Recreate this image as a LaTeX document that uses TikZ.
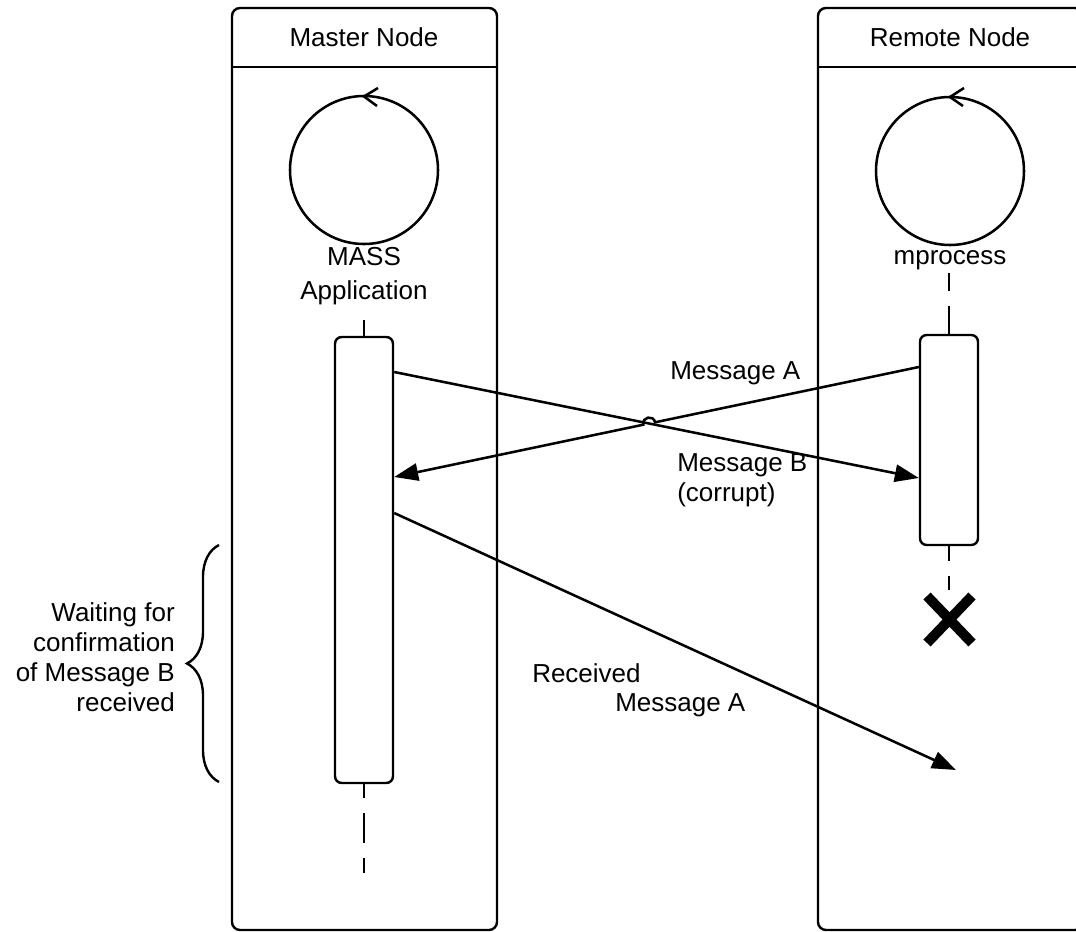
\documentclass[tikz,border=0pt]{standalone}
\usepackage{fontspec}
\setmainfont{Liberation Sans}
\usetikzlibrary{arrows.meta,decorations.pathreplacing,calc}
\begin{document}
\begin{tikzpicture}[x=0.75pt,y=-0.75pt,
  lane/.style={draw,line width=1.8pt,rounded corners=6pt},
  act/.style={draw,line width=1.8pt,rounded corners=5pt,fill=white,inner sep=0pt},
  msg/.style={line width=1.9pt,-{Triangle[length=18pt,width=13pt]}},
  lbl/.style={font=\fontsize{19.5}{22.5}\selectfont,inner sep=0pt},
  life/.style={line width=1.8pt,dash pattern=on 22.5pt off 11.25pt},
  proc/.style={draw,circle,line width=1.9pt,minimum size=111pt,inner sep=0pt},
  chev/.style={line width=1.9pt},
]
\useasboundingbox (0,0) rectangle (1076,932);
\clip (0,0) rectangle (1076,932);

% lanes
\draw[lane] (232,8) rectangle (497,930);
\draw[line width=1.8pt] (232,67) -- (497,67);
\draw[lane] (818,8) rectangle (1083,930);
\draw[line width=1.8pt] (818,67) -- (1083,67);
\node[lbl] (mtitle) at (364,37) {Master Node};
\node[lbl] (rtitle) at (950,37) {Remote Node};

% processes
\node[proc] (mproc) at (364,170) {};
\draw[chev] (378,88) -- (364,96.5) -- (377,106);
\node[proc] (rproc) at (950,171) {};
\draw[chev] (964,88) -- (950,97) -- (963,106);
\node[lbl,align=center,font=\fontsize{19.5}{26}\selectfont] (mname) at (364,276) {MASS\\Application};
\node[lbl] (rname) at (950,260) {mprocess};

% activations
\node[act,minimum width=43.5pt,minimum height=334.5pt] (mact) at (364,560) {};
\node[act,minimum width=43.5pt,minimum height=157.5pt] (ract) at (949,440) {};

% lifelines
\coordinate (mtop) at (364,320);
\draw[line width=1.8pt] (mtop) -- (mact.north);
\coordinate (mend) at (364,873);
\draw[life,dash phase=12pt] (mact.south) -- (mend);
\coordinate (rtop) at (949,273);
\draw[life,dash phase=9pt] (rtop) -- (ract.north);
\coordinate (rend) at (949,590);
\draw[life,dash phase=11.25pt] (ract.south) -- (rend);

% destruction
\draw[line width=7.5pt] (927,596) -- (972,643) (972,596) -- (927,643);

% messages
\coordinate (bs) at (mact.east |- 0,372);
\coordinate (be) at (ract.west |- 0,478);
\draw[msg] (bs) -- (be);
\coordinate (as) at (ract.west |- 0,367);
\coordinate (ae) at (mact.east |- 0,477);
\draw[msg] (as) -- (655.1,422.3) .. controls (653.5,414.5) and (641.7,416.9) .. (643.3,424.7) -- (ae);
\coordinate (cs) at (mact.east |- 0,513);
\coordinate (ce) at (956,770);
\draw[msg] (cs) -- (ce);

\node[lbl,anchor=west] (la) at (670,373) {Message A};
\node[lbl,anchor=west,align=left] (lb) at (677,480) {Message B\\(corrupt)};
\node[lbl,anchor=west] (lc1) at (532,673) {Received};
\node[lbl,anchor=west] (lc2) at (615,705) {Message A};

% brace
\draw[line width=1.8pt,decorate,decoration={brace,amplitude=24pt}] (219,782) -- (219,545);
\node[lbl,align=right,anchor=east] (wait) at (175,657) {Waiting for\\confirmation\\of Message B\\received};
\end{tikzpicture}
\end{document}
